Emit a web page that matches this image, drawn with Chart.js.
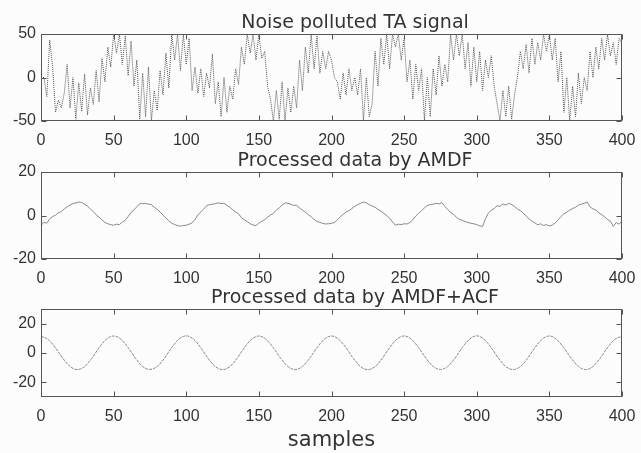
<!DOCTYPE html>
<html>
<head>
<meta charset="utf-8">
<script src="https://cdn.jsdelivr.net/npm/chart.js@4"></script>
<style>
  body { margin: 0; background: #fcfcfc; width: 641px; height: 453px; overflow: hidden; position: relative; }
  canvas { position: absolute; left: 0; }
</style>
</head>
<body>
<canvas id="c1" width="710" height="131" style="top:14px"></canvas>
<canvas id="c2" width="710" height="131" style="top:152px"></canvas>
<canvas id="c3" width="710" height="164" style="top:289px"></canvas>
<script>
// tick labels
const xTicks = [0, 50, 100, 150, 200, 250, 300, 350, 400];
const yTicks1 = [-50, 0, 50];
const yTicks2 = [-20, 0, 20];
const yTicks3 = [-20, 0, 20];

// noise polluted TA signal, every 2 samples (0..400)
const noiseVals = [
  0, 0, -22, 43, 12, -40, -26, -35, -18, 15,
  -35, 0, -48, -6, -39, 4, -43, -12, -31, 8,
  -28, 22, -5, 35, 12, 50, 28, 50, 15, 48,
  2, 42, -10, 20, -48, 5, -45, 12, -50, -15,
  -38, 8, -20, 28, -12, 50, 20, 50, 8, 50,
  15, 45, -15, 12, -18, 10, -22, 5, -12, 27,
  -30, -5, -45, 0, -40, -10, -25, 10, -8, 35,
  15, 50, 28, 50, 20, 50, 22, 30, -10, -25,
  -50, -15, -48, -5, -50, -12, -40, -10, -35, 20,
  -15, 35, 5, 50, 10, 48, 5, 30, 10, 30,
  20, 0, -5, -25, 5, -20, 10, -15, 0, -20,
  10, -50, 0, -45, -30, 30, -10, 45, 15, 50,
  10, 50, 35, 50, 20, 45, -5, 20, -25, 15,
  -15, 10, -50, 0, -45, 10, -20, 25, -10, 15,
  -5, 50, 20, 50, 25, 50, 10, 40, -10, 35,
  -5, 30, -15, 20, 0, 25, -10, -30, -50, -15,
  -45, -10, -48, -20, 0, 30, 10, 38, 5, 45,
  15, 40, 20, 50, 30, 50, 20, 45, -5, 30,
  -40, 0, -50, -10, -45, 5, -30, 0, -15, 30,
  0, 35, 10, 45, 20, 50, 25, 40, 15, 45,
  40
];

// processed by AMDF, every 2 samples (0..400)
const amdfVals = [
  -4.5, -3.2, -3.5, -1.5, -0.5, 0.2, 1.2, 1.8, 3.0, 4.0,
  4.8, 5.5, 5.8, 6.2, 6.0, 5.2, 4.3, 3.0, 1.8, 0.3,
  -0.8, -2.0, -3.2, -3.8, -4.2, -4.5, -4.0, -4.2, -3.0, -2.2,
  -0.5, 1.5, 2.6, 4.0, 5.5, 5.4, 5.6, 5.2, 5.0, 3.8,
  2.8, 1.6, 0.2, -1.2, -2.5, -3.5, -4.2, -4.6, -4.9, -4.6,
  -4.5, -4.0, -3.4, -1.8, 0.2, 1.6, 3.0, 4.5, 5.0, 5.2,
  5.4, 5.8, 5.5, 5.6, 4.6, 3.8, 2.6, 1.6, 0.8, -1.0,
  -2.0, -2.8, -3.8, -4.4, -4.6, -3.5, -2.6, -2.0, -0.8, 0.2,
  1.0, 2.5, 3.5, 4.8, 5.8, 5.6, 5.2, 4.6, 4.8, 3.4,
  2.5, 1.5, 0.4, -0.6, -1.8, -2.8, -3.2, -3.6, -3.9, -3.8,
  -3.6, -3.2, -2.0, -0.6, 0.5, 1.6, 2.2, 3.2, 4.2, 5.0,
  5.6, 6.2, 5.8, 5.0, 4.4, 3.8, 2.8, 2.0, 1.0, 0.0,
  -1.2, -3.0, -4.5, -4.0, -4.2, -3.8, -3.9, -3.2, -2.0, -0.2,
  1.0, 2.2, 3.5, 4.6, 5.0, 5.2, 5.6, 5.3, 5.9, 4.2,
  2.8, 1.4, 0.5, -0.8, -1.8, -2.2, -2.8, -3.2, -3.6, -3.8,
  -4.2, -4.8, -5.0, -1.5, 1.0, 2.5, 3.2, 4.5, 4.2, 5.3,
  4.8, 5.6, 5.0, 4.2, 3.0, 2.2, 1.2, -0.3, -1.5, -2.6,
  -3.4, -4.3, -3.8, -4.6, -4.2, -4.8, -4.4, -3.5, -2.0, -0.5,
  0.8, 1.5, 2.5, 3.2, 3.8, 4.8, 5.2, 5.6, 6.2, 4.0,
  3.0, 2.6, 1.2, 0.4, -0.6, -1.8, -2.6, -5.0, -3.2, -4.0,
  -2.5
];

// processed by AMDF+ACF, every 5 samples (0..400)
const acfVals = [
  11.4, 9.2, 3.5, -3.6, -9.2, -11.3, -9.3, -3.6, 3.6, 9.4,
  11.6, 9.4, 3.6, -3.5, -9.2, -11.2, -9.2, -3.5, 3.7, 9.5,
  11.7, 9.4, 3.6, -3.6, -9.3, -11.3, -9.3, -3.6, 3.6, 9.4,
  11.6, 9.3, 3.5, -3.6, -9.2, -11.3, -9.2, -3.5, 3.6, 9.4,
  11.6, 9.4, 3.6, -3.6, -9.3, -11.3, -9.3, -3.6, 3.6, 9.4,
  11.6, 9.4, 3.6, -3.5, -9.2, -11.2, -9.2, -3.5, 3.6, 9.4,
  11.7, 9.4, 3.6, -3.6, -9.3, -11.3, -9.3, -3.6, 3.6, 9.4,
  11.6, 9.3, 3.5, -3.6, -9.2, -11.3, -9.2, -3.5, 3.6, 9.3,
  11.4
];

const FONT = "'Liberation Sans', Arial, sans-serif";
const TFONT = "'DejaVu Sans', sans-serif";
const TEXT = '#333';

// box round the plot with inward ticks on all four sides
const frameTicks = {
  id: 'frameTicks',
  afterDraw(chart) {
    const { ctx, chartArea: a, scales: { x, y } } = chart;
    const L = Math.round(a.left) + 0.5, R = Math.round(a.right) - 0.5;
    const T = Math.round(a.top) + 0.5, B = Math.round(a.bottom) - 0.5;
    ctx.save();
    ctx.strokeStyle = '#555';
    ctx.lineWidth = 1;
    ctx.strokeRect(L, T, R - L, B - T);
    ctx.beginPath();
    x.ticks.forEach(t => {
      const px = Math.round(x.getPixelForValue(t.value)) + 0.5;
      ctx.moveTo(px, B); ctx.lineTo(px, B - 5);
      ctx.moveTo(px, T); ctx.lineTo(px, T + 5);
    });
    y.ticks.forEach(t => {
      const py = Math.round(y.getPixelForValue(t.value)) + 0.5;
      ctx.moveTo(L, py); ctx.lineTo(L + 5, py);
      ctx.moveTo(R, py); ctx.lineTo(R - 5, py);
    });
    ctx.stroke();
    ctx.restore();
  }
};

function makeChart(id, title, vals, step, yMin, yMax, yTicks, line, xTitle) {
  const pts = vals.map((v, i) => ({ x: i * step, y: v }));
  return new Chart(document.getElementById(id), {
    type: 'line',
    data: {
      datasets: [{
        data: pts,
        borderColor: line.color,
        borderWidth: 1,
        borderDash: line.dash,
        pointRadius: 0,
        fill: false,
        tension: 0,
        cubicInterpolationMode: line.smooth ? 'monotone' : 'default'
      }]
    },
    options: {
      responsive: false,
      animation: false,
      events: [],
      layout: { padding: 0 },
      plugins: {
        legend: { display: false },
        tooltip: { enabled: false },
        title: {
          display: true,
          text: title,
          color: TEXT,
          font: { family: TFONT, size: 19, weight: 'normal', lineHeight: 1.0 },
          padding: { top: 0, bottom: 1 }
        }
      },
      scales: {
        x: {
          type: 'linear',
          min: 0, max: 400,
          grid: { display: false, drawTicks: false },
          border: { display: false },
          afterBuildTicks: s => { s.ticks = xTicks.map(v => ({ value: v })); },
          afterFit: s => { s.height = xTitle ? 56 : 24; },
          ticks: { color: TEXT, padding: 10, maxRotation: 0, font: { family: FONT, size: 16 } },
          title: {
            display: !!xTitle,
            text: xTitle || '',
            color: TEXT,
            font: { family: TFONT, size: 21 },
            padding: { top: 0, bottom: 0 }
          }
        },
        y: {
          min: yMin, max: yMax,
          grid: { display: false, drawTicks: false },
          border: { display: false },
          afterBuildTicks: s => { s.ticks = yTicks.map(v => ({ value: v })); },
          afterFit: s => { s.width = 41; },
          ticks: { color: TEXT, padding: 5, font: { family: FONT, size: 16 } }
        },
        // empty right-hand strip so the title sits where the original puts it
        yr: {
          type: 'linear',
          position: 'right',
          min: yMin, max: yMax,
          grid: { display: false, drawTicks: false },
          border: { display: false },
          ticks: { display: false },
          afterFit: s => { s.width = 88; }
        }
      }
    },
    plugins: [frameTicks]
  });
}

makeChart('c1', 'Noise polluted TA signal', noiseVals, 2, -50, 50, yTicks1,
  { color: '#555', dash: [1, 1], smooth: false });
makeChart('c2', 'Processed data by AMDF', amdfVals, 2, -20, 20, yTicks2,
  { color: '#888', dash: [], smooth: false });
makeChart('c3', 'Processed data by AMDF+ACF', acfVals, 5, -30, 30, yTicks3,
  { color: '#888', dash: [3, 1], smooth: true }, 'samples');
</script>
</body>
</html>
